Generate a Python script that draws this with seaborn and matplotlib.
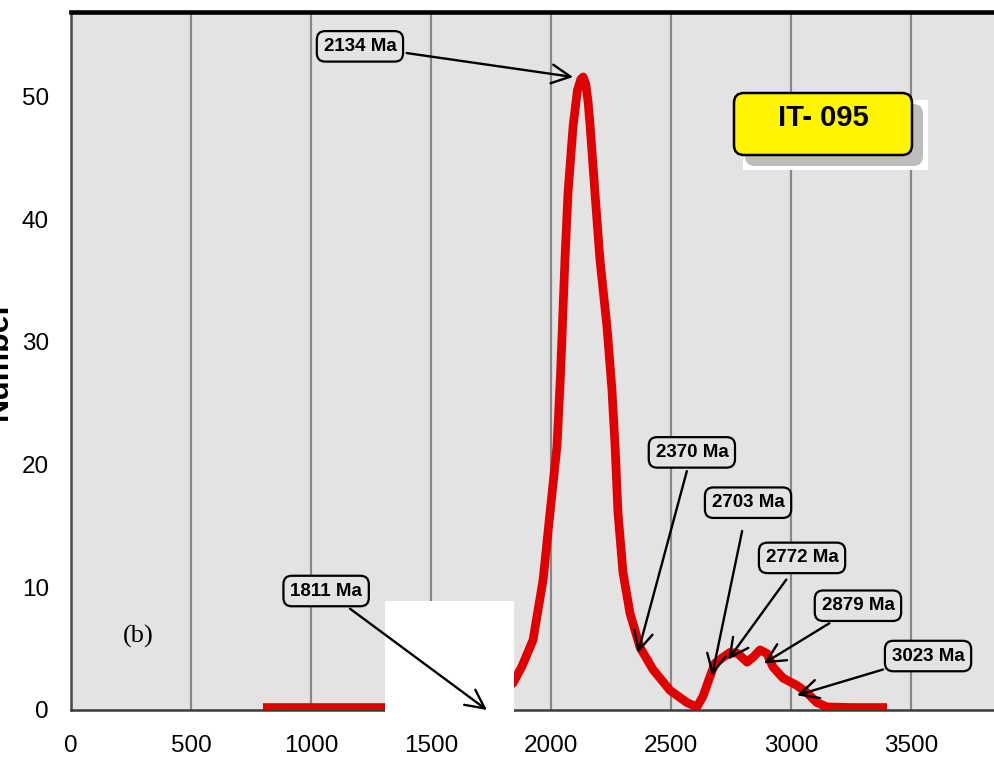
import matplotlib
matplotlib.use("Agg")
import matplotlib.pyplot as plt
import seaborn as sns
import pandas as pd
from matplotlib.patches import FancyBboxPatch, Rectangle
from matplotlib.ticker import MultipleLocator

# ---- data ----
ages = [800, 1000, 1200, 1300, 1500, 1600, 1700, 1800, 1842, 1880, 1925, 1967, 1996,
        2025, 2040, 2058, 2071, 2092, 2110, 2124, 2134, 2145, 2155, 2163, 2183, 2204, 2233,
        2254, 2267, 2279, 2300, 2329, 2371, 2425, 2496, 2567, 2608, 2633, 2662,
        2683, 2717, 2746, 2779, 2817, 2842, 2871, 2900, 2925, 2967, 3025, 3067,
        3108, 3150, 3250, 3400]
density = [0.2, 0.2, 0.2, 0.2, 0.3, 0.5, 0.9, 1.6, 2.2, 3.6, 5.7, 10.6, 16.1,
           21.5, 27.5, 36.7, 42.2, 47.6, 50.5, 51.4, 51.6, 51.0, 49.5, 47.6, 42.2, 36.7, 31.3,
           26.1, 21.5, 16.1, 11.2, 7.9, 5.1, 3.3, 1.6, 0.6, 0.25, 1.1, 2.7,
           3.8, 4.3, 4.7, 4.6, 3.9, 4.3, 4.9, 4.6, 3.5, 2.6, 2.0, 1.4,
           0.6, 0.25, 0.2, 0.2]

peak_labels = ["2134 Ma", "2370 Ma", "2703 Ma", "2772 Ma", "2879 Ma", "3023 Ma", "1811 Ma"]
peak_tip_age = [2092, 2362, 2671, 2738, 2887, 3025, 1733]
peak_tip_val = [51.6, 4.65, 2.8, 4.1, 3.8, 1.2, 0.0]

sample_name = "IT- 095"
panel_label = "(b)"
y_label = "Number"
x_ticks = [0, 500, 1000, 1500, 2000, 2500, 3000, 3500]
y_ticks = [0, 10, 20, 30, 40, 50]

# ---- layout (not data) ----
label_text_pos = [(1204, 54.1), (2587, 21.0), (2821, 16.9), (3046, 12.4),
                  (3279, 8.5), (3571, 4.4), (1063, 9.7)]
label_shrinkA = [2, 2, 9, 5, 2, 2, 2]

sns.set_style("white")
plt.rcParams['font.family'] = ['Liberation Sans', 'DejaVu Sans']
plt.rcParams['text.color'] = 'black'
plt.rcParams['xtick.labelcolor'] = 'black'
plt.rcParams['ytick.labelcolor'] = 'black'

fig = plt.figure(figsize=(9.95, 7.6), dpi=100)
ax = fig.add_axes([71/995, 50/760, 960/995, 698/760])
ax.set_facecolor('#E3E3E3')

df = pd.DataFrame({"age": ages, "density": density})
sns.lineplot(data=df, x="age", y="density", ax=ax, color='#E00000', lw=6.3,
             zorder=3, solid_joinstyle='round', solid_capstyle='butt')

ax.set_xlim(0, 4000)
ax.set_ylim(0, 56.9)
ax.set_xticks(x_ticks)
ax.set_yticks(y_ticks)
ax.xaxis.set_minor_locator(MultipleLocator(100))
ax.yaxis.set_minor_locator(MultipleLocator(2))
ax.set_xlabel("")
ax.set_ylabel("")

ax.grid(axis='x', which='major', color='#878787', lw=1.6, zorder=1)
ax.grid(axis='y', visible=False)
ax.set_axisbelow(True)

ax.tick_params(axis='both', which='major', direction='inout', length=12,
               width=2, color='#8a8a8a', labelsize=17.5, labelcolor='black')
ax.tick_params(axis='x', which='major', pad=12)
ax.tick_params(axis='y', which='major', pad=10)
ax.tick_params(axis='x', which='minor', direction='in', length=5,
               width=1.6, color='#8a8a8a')
ax.tick_params(axis='y', which='minor', direction='inout', length=6,
               width=1.6, color='#8a8a8a')

ax.spines['right'].set_visible(False)
ax.spines['top'].set_color('black')
ax.spines['top'].set_linewidth(3.3)
ax.spines['left'].set_color('#4a4a4a')
ax.spines['left'].set_linewidth(1.8)
ax.spines['bottom'].set_color('#3a3a3a')
ax.spines['bottom'].set_linewidth(1.8)

# white cover box (in inches from image pixels)
def px_box(x0, y0, x1, y1):
    return (x0/100, (760-y1)/100, (x1-x0)/100, (y1-y0)/100)

bx, by, bw, bh = px_box(385, 601, 514, 714)
cover = Rectangle((bx, by), bw, bh, transform=fig.dpi_scale_trans,
                  facecolor='white', edgecolor='none', zorder=4, clip_on=False)
ax.add_patch(cover)

# annotations
for lab, tx, ty, (px_, py_), sA in zip(peak_labels, peak_tip_age, peak_tip_val,
                                        label_text_pos, label_shrinkA):
    ax.annotate(lab, xy=(tx, ty), xytext=(px_, py_), ha='center', va='center',
                fontsize=13.5, fontweight='bold', color='black', zorder=6,
                annotation_clip=False,
                bbox=dict(boxstyle='round,pad=0.36,rounding_size=0.45',
                          facecolor='#E3E3E3', edgecolor='black', lw=1.6),
                arrowprops=dict(arrowstyle='->,head_length=1.0,head_width=0.5',
                                color='black', lw=1.7, shrinkA=sA, shrinkB=0))

# sample name box with shadow
wx, wy, ww, wh = px_box(743, 100, 928, 170)
ax.add_patch(Rectangle((wx, wy), ww, wh, transform=fig.dpi_scale_trans,
                       facecolor='white', edgecolor='none', zorder=5, clip_on=False))
sx, sy, sw, sh = px_box(745, 104, 923, 166)
ax.add_patch(FancyBboxPatch((sx, sy), sw, sh, boxstyle='round,pad=0,rounding_size=0.1',
                            transform=fig.dpi_scale_trans, facecolor='#BDBDBD',
                            edgecolor='none', zorder=5.5, clip_on=False))
yx, yy, yw, yh = px_box(734, 93, 912, 155)
ax.add_patch(FancyBboxPatch((yx, yy), yw, yh, boxstyle='round,pad=0,rounding_size=0.1',
                            transform=fig.dpi_scale_trans, facecolor='#FFF500',
                            edgecolor='black', lw=1.8, zorder=6, clip_on=False))
fig.text(823/995, 1 - 118/760, sample_name, ha='center', va='center',
         fontsize=21, fontweight='bold', color='black', zorder=7)

# panel label
ax.text(279, 6.0, panel_label, ha='center', va='center', fontsize=19,
        color='black', family=['Liberation Serif', 'DejaVu Serif'], zorder=5)

# clipped y label (partially outside the figure, as in the reference)
fig.text(14/995, 1 - 360/760, y_label, rotation=90, ha='right', va='center',
         fontsize=23, fontweight='bold', color='black')

fig.savefig("out.png", dpi=100)
